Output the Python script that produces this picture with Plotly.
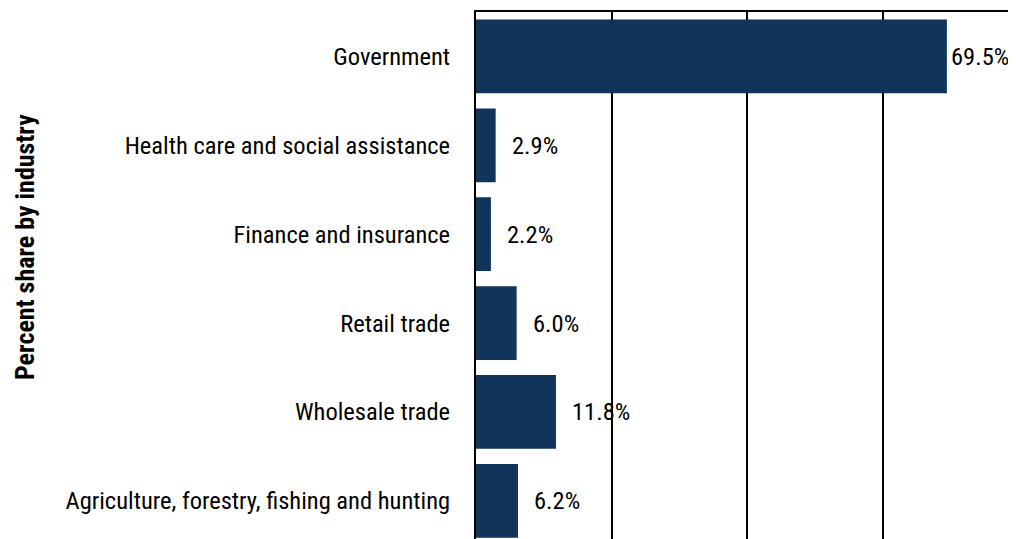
import plotly.graph_objects as go

categories = [
    "Government",
    "Health care and social assistance",
    "Finance and insurance",
    "Retail trade",
    "Wholesale trade",
    "Agriculture, forestry, fishing and hunting",
]
values = [69.5, 2.9, 2.2, 6.0, 11.8, 6.2]
value_labels = ["69.5%", "2.9%", "2.2%", "6.0%", "11.8%", "6.2%"]
axis_title = "Percent share by industry"

FONT = "Roboto Condensed, Liberation Sans, sans-serif"
FS = 24.5
BAR = "#10345a"
XMAX = 79.7

W, H = 1008, 531
L, T = 468, 4
PW, PH = W - L, H - T

fig = go.Figure(
    go.Bar(
        y=categories,
        x=values,
        orientation="h",
        width=0.83,
        marker=dict(color=BAR, line=dict(width=0)),
        hoverinfo="skip",
    )
)

for cat, v, lab in zip(categories, values, value_labels):
    shift = 2 if v > XMAX * 0.8 else 14
    fig.add_annotation(
        x=v, y=cat, text=lab, showarrow=False, xanchor="left", yanchor="middle",
        xshift=shift, font=dict(family=FONT, size=FS, color="#000000"),
    )

fig.add_annotation(
    text=f"<b>{axis_title}</b>", xref="paper", yref="paper",
    x=(1 - L) / PW, y=(H - 239) / PH, xanchor="left", yanchor="middle",
    textangle=-90, showarrow=False, borderpad=0,
    font=dict(family=FONT, size=26, color="#000000"),
)

fig.update_layout(
    width=W, height=H,
    margin=dict(l=L, r=0, t=T, b=0, pad=0),
    paper_bgcolor="white", plot_bgcolor="white",
    showlegend=False,
)
fig.update_xaxes(
    range=[0, XMAX], dtick=20, showgrid=True, gridcolor="#000000", gridwidth=1.8,
    showticklabels=False, ticks="", zeroline=False,
    showline=True, linecolor="#000000", linewidth=2, mirror=True,
)
fig.update_yaxes(
    autorange=False, range=[5.43, -0.5], type="category",
    showline=True, linecolor="#000000", linewidth=2,
    ticks="", ticklabelstandoff=19,
    tickfont=dict(family=FONT, size=FS, color="#000000"),
)

fig.write_html("out.html")
